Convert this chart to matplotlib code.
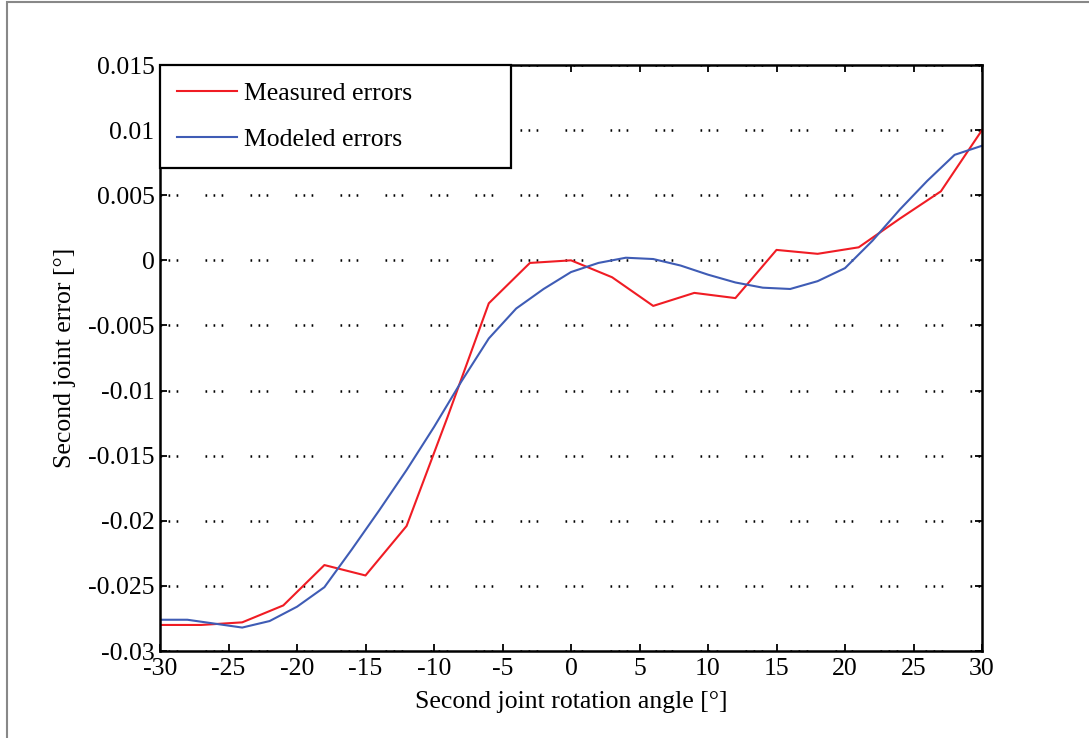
import numpy as np
import matplotlib
matplotlib.use('Agg')
import matplotlib.pyplot as plt
from matplotlib.patches import Rectangle

# measured errors, sampled every 3 degrees
meas_angle = [-30, -27, -24, -21, -18, -15, -12, -9, -6, -3, 0,
              3, 6, 9, 12, 15, 18, 21, 24, 27, 30]
meas_err = [-0.0280, -0.0280, -0.0278, -0.0265, -0.0234, -0.0242, -0.0204,
            -0.0120, -0.0033, -0.0002, 0.0000, -0.0013, -0.0035, -0.0025,
            -0.0029, 0.0008, 0.0005, 0.0010, 0.0032, 0.0053, 0.0100]

# modeled errors, every 2 degrees
model_angle = list(range(-30, 31, 2))
model_err = [-0.0276, -0.0276, -0.0279, -0.0282, -0.0277, -0.0266, -0.0251,
             -0.0222, -0.0192, -0.0161, -0.0128, -0.0093, -0.0060, -0.0037,
             -0.0022, -0.0009, -0.0002, 0.0002, 0.0001, -0.0004, -0.0011,
             -0.0017, -0.0021, -0.0022, -0.0016, -0.0006, 0.0015, 0.0039,
             0.0061, 0.0081, 0.0088]

x_ticks = list(range(-30, 31, 5))
y_ticks = [-0.03, -0.025, -0.02, -0.015, -0.01, -0.005, 0, 0.005, 0.01, 0.015]
y_tick_labels = ['-0.03', '-0.025', '-0.02', '-0.015', '-0.01', '-0.005',
                 '0', '0.005', '0.01', '0.015']

plt.rcParams['font.family'] = ['Liberation Serif', 'DejaVu Serif']
plt.rcParams['axes.unicode_minus'] = False
plt.rcParams['lines.scale_dashes'] = False

fig = plt.figure(figsize=(10.89, 7.38), dpi=100)
ax = fig.add_axes([160 / 1089, 87 / 738, 822 / 1089, 586 / 738])

ax.plot(meas_angle, meas_err, color='#f01c24', lw=1.5, label='Measured errors')
ax.plot(model_angle, model_err, color='#3f5cb5', lw=1.5, label='Modeled errors')

ax.set_xlim(-30, 30)
ax.set_ylim(-0.03, 0.015)
ax.set_xticks(x_ticks)
ax.set_yticks(y_ticks)
ax.set_yticklabels(y_tick_labels)

ax.tick_params(direction='in', length=5, width=1.3, top=True, right=True,
               labelsize=18.5, colors='black')
ax.tick_params(axis='y', pad=4)
ax.tick_params(axis='x', pad=5)
for sp in ax.spines.values():
    sp.set_linewidth(1.8)

# dotted horizontal grid (MATLAB style)
ax.yaxis.grid(True, color='black', lw=1.8,
              dashes=(1.2, 4.6, 1.2, 4.6, 1.2, 19.6))
ax.set_axisbelow(True)

ax.set_xlabel('Second joint rotation angle [°]', fontsize=18.5)
ax.xaxis.set_label_coords(0.5, -0.068)
ax.set_ylabel('Second joint error [°]', fontsize=18.5, va='center')
ax.yaxis.set_label_coords(-0.116, 0.5)

leg = ax.legend(loc='upper left', bbox_to_anchor=(0, 0, 351 / 822, 1),
                mode='expand', borderaxespad=0, fontsize=18.5,
                handlelength=2.3, handletextpad=0.3, labelspacing=0.86,
                borderpad=0.68, fancybox=False, framealpha=1)
leg.get_frame().set_edgecolor('black')
leg.get_frame().set_linewidth(1.6)

# thin gray frame around the picture
fig.add_artist(Rectangle((7 / 1089, -0.5), 2, 0.5 + 1 - 1.5 / 738,
                         transform=fig.transFigure, fill=False,
                         edgecolor='#888888', lw=1.5))

fig.savefig('out.png', dpi=100)
